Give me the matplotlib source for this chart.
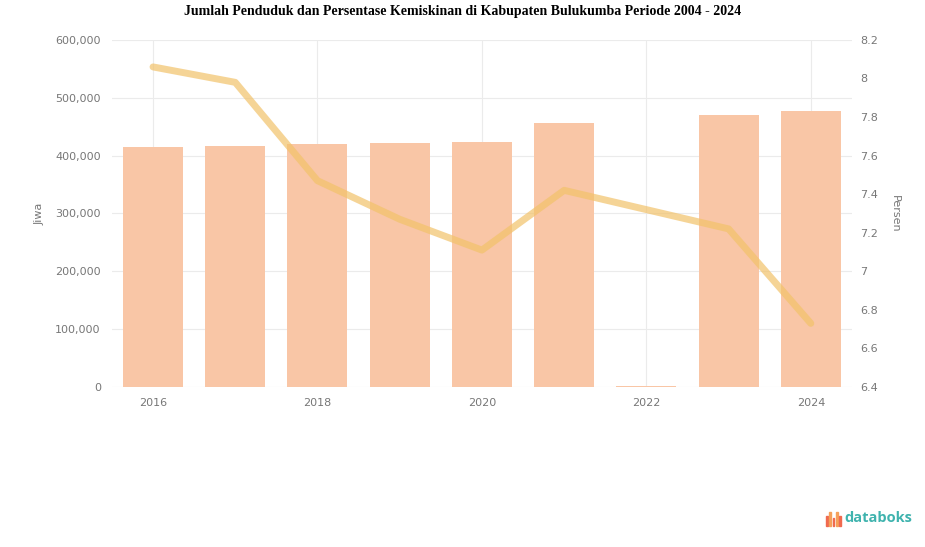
import numpy as np
import matplotlib.pyplot as plt
from matplotlib.patches import Rectangle

# Data
years = ['2016', '2017', '2018', '2019', '2020', '2021', '2022', '2023', '2024']
penduduk = [415000, 417000, 420000, 422000, 424000, 457000, 2500, 470000, 477000]
kemiskinan = [8.06, 7.98, 7.47, 7.27, 7.11, 7.42, 7.32, 7.22, 6.73]

left_ticks = [0, 100000, 200000, 300000, 400000, 500000, 600000]
right_ticks = [6.4, 6.6, 6.8, 7, 7.2, 7.4, 7.6, 7.8, 8, 8.2]

bar_color = '#F9C6A6'
line_color = '#F2C26A'
tick_color = '#777777'

fig = plt.figure(figsize=(9.25, 5.47), dpi=100)
ax = fig.add_axes([0.121, 0.2925, 0.80, 0.6345])

x = np.arange(len(years))
ax.bar(x, penduduk, width=0.73, color=bar_color, zorder=2)
ax.set_xlim(-0.5, len(years) - 0.5)
ax.set_ylim(0, 600000)
ax.set_yticks(left_ticks)
ax.set_yticklabels([f'{v:,}' for v in left_ticks])
ax.set_xticks(x[::2])
ax.set_xticklabels(years[::2])
ax.grid(True, color='#EBEBEB', linewidth=0.8, zorder=0)
ax.set_axisbelow(True)
for s in ax.spines.values():
    s.set_visible(False)
ax.tick_params(length=0, colors=tick_color, labelsize=8, pad=8)
ax.set_ylabel('Jiwa', color=tick_color, fontsize=8, labelpad=8)

ax2 = ax.twinx()
ax2.plot(x, kemiskinan, color=line_color, linewidth=5, alpha=0.7,
         solid_joinstyle='round', solid_capstyle='round', zorder=3)
ax2.set_ylim(6.4, 8.2)
ax2.set_yticks(right_ticks)
ax2.set_yticklabels([f'{v:g}' for v in right_ticks])
for s in ax2.spines.values():
    s.set_visible(False)
ax2.tick_params(length=0, colors=tick_color, labelsize=8, pad=6)
ax2.set_ylabel('Persen', color=tick_color, fontsize=8, rotation=270, labelpad=16)

fig.suptitle('Jumlah Penduduk dan Persentase Kemiskinan di Kabupaten Bulukumba Periode 2004 - 2024',
             x=0.5, y=0.99, fontsize=10, fontweight='bold', family='Liberation Serif')

# databoks logo
icon_cols = ['#F06A4F', '#F5A05A', '#F06A4F', '#F5A05A', '#F06A4F']
icon_h = [10, 14, 8, 14, 10]
for i, (c, h) in enumerate(zip(icon_cols, icon_h)):
    fig.patches.append(Rectangle(((826 + i * 3.3) / 925, (547 - 526) / 547), 1.6 / 925, h / 547,
                                 transform=fig.transFigure, color=c))
fig.text(844 / 925, (547 - 518) / 547, 'databoks', color='#3FB3AE', fontsize=10.5,
         fontweight='bold', family='Open Sans', va='center', ha='left')

fig.savefig('out.png', dpi=100)
